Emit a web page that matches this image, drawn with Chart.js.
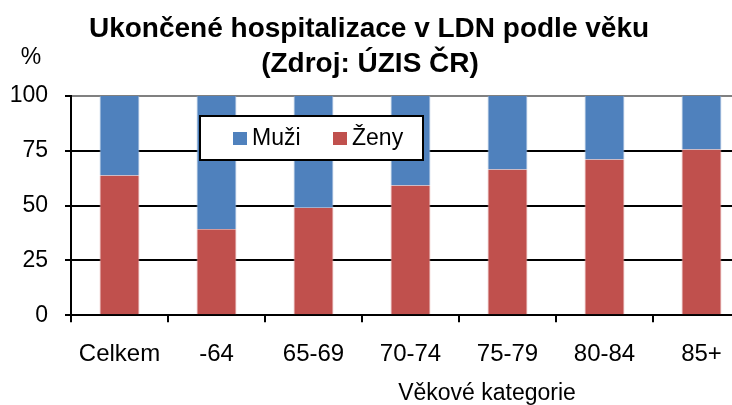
<!DOCTYPE html>
<html>
<head>
<meta charset="utf-8">
<script src="https://cdn.jsdelivr.net/npm/chart.js@4"></script>
<style>
  html, body { margin: 0; padding: 0; overflow: hidden; background: #fff; }
  canvas { display: block; }
</style>
</head>
<body>
<canvas id="myChart" width="750" height="405"></canvas>
<script>
// --- 1. Data ---
const categories = ['Celkem', '-64', '65-69', '70-74', '75-79', '80-84', '85+'];
const zenyValues = [63.7, 39.2, 49.0, 59.2, 66.5, 71.0, 75.6];
const muziValues = [36.3, 60.8, 51.0, 40.8, 33.5, 29.0, 24.4];
const yTicks = [0, 25, 50, 75, 100];

const titleLines = ['Ukončené hospitalizace v LDN podle věku', '(Zdroj: ÚZIS ČR)'];
const xTitle = 'Věkové kategorie';
const yUnit = '%';

const blue = '#4F81BD';
const red = '#C0504D';
const fontFamily = '"Liberation Sans", Arial, sans-serif';

// --- 2. Texts and legend box drawn on top ---
const extrasPlugin = {
    id: 'extras',
    afterDraw(chart) {
        const ctx = chart.ctx;
        ctx.save();
        ctx.fillStyle = '#000';
        ctx.textAlign = 'center';
        ctx.textBaseline = 'alphabetic';

        // title
        ctx.font = 'bold 28px ' + fontFamily;
        ctx.fillText(titleLines[0], 369, 37);
        ctx.fillText(titleLines[1], 370, 72);

        // unit label
        ctx.font = '23px ' + fontFamily;
        ctx.fillText(yUnit, 31, 64);

        // x title
        ctx.font = '23px ' + fontFamily;
        ctx.fillText(xTitle, 487, 400);

        // legend box
        ctx.fillStyle = '#fff';
        ctx.fillRect(200, 116, 223, 44);
        ctx.strokeStyle = '#000';
        ctx.lineWidth = 2;
        ctx.strokeRect(200, 116, 223, 44);

        const items = [
            { label: chart.data.datasets[1].label, color: chart.data.datasets[1].backgroundColor, x: 233 },
            { label: chart.data.datasets[0].label, color: chart.data.datasets[0].backgroundColor, x: 333 }
        ];
        ctx.font = '23px ' + fontFamily;
        ctx.textAlign = 'left';
        ctx.textBaseline = 'middle';
        items.forEach(it => {
            ctx.fillStyle = it.color;
            ctx.fillRect(it.x, 132, 14, 13);
            ctx.fillStyle = '#000';
            ctx.fillText(it.label, it.x + 19, 139);
        });
        ctx.restore();
    }
};

// --- 3. Chart ---
const ctx = document.getElementById('myChart').getContext('2d');
new Chart(ctx, {
    type: 'bar',
    data: {
        labels: categories,
        datasets: [
            { label: 'Ženy', data: zenyValues, backgroundColor: red,
              borderColor: '#D99694', borderWidth: { left: 1, right: 1 }, borderSkipped: false },
            { label: 'Muži', data: muziValues, backgroundColor: blue,
              borderColor: '#95B3D7', borderWidth: { left: 1, right: 1 }, borderSkipped: false }
        ]
    },
    options: {
        responsive: false,
        animation: false,
        events: [],
        layout: { padding: { left: 0, right: 0, top: 96, bottom: 18 } },
        datasets: { bar: { barPercentage: 0.41, categoryPercentage: 1 } },
        plugins: {
            legend: { display: false },
            title: { display: false },
            tooltip: { enabled: false }
        },
        scales: {
            x: {
                stacked: true,
                grid: { drawOnChartArea: false, drawTicks: true, tickLength: 7, color: '#000', lineWidth: 2, offset: true },
                border: { color: '#000', width: 2 },
                ticks: { color: '#000', padding: 18, font: { family: fontFamily, size: 24 } }
            },
            y: {
                stacked: true,
                min: 0,
                max: 100,
                afterBuildTicks(scale) { scale.ticks = yTicks.map(v => ({ value: v })); },
                afterFit(scale) { scale.width = 71; },
                grid: {
                    color: c => (c.tick && c.tick.value === 100 ? '#808080' : '#000'),
                    tickColor: '#000',
                    lineWidth: 2,
                    tickLength: 6
                },
                border: { color: '#000', width: 2 },
                ticks: { color: '#000', padding: 17, font: { family: fontFamily, size: 23 } }
            }
        }
    },
    plugins: [extrasPlugin]
});
</script>
</body>
</html>
